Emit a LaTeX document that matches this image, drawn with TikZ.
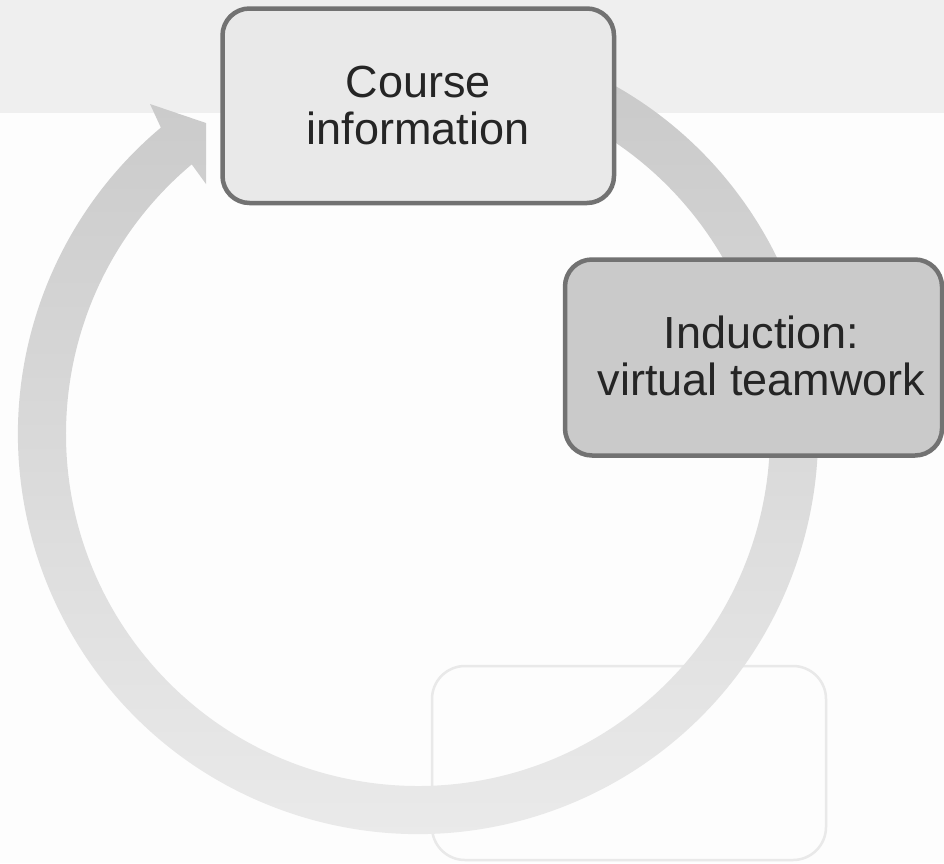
\documentclass[tikz,border=0pt]{standalone}
\usepackage{fontspec}
\setmainfont{Liberation Sans}
\definecolor{paper}{HTML}{FDFDFD}
\definecolor{band}{HTML}{EFEFEF}
\definecolor{ringtop}{HTML}{C9C9C9}
\definecolor{ringmid}{HTML}{E3E3E3}
\definecolor{ringbot}{HTML}{ECECEC}
\definecolor{boxedge}{HTML}{727272}
\definecolor{lightfill}{HTML}{E9E9E9}
\definecolor{darkfill}{HTML}{CACACA}
\definecolor{ghostedge}{HTML}{E9E9E9}
\definecolor{ink}{HTML}{252525}
\begin{document}
\begin{tikzpicture}[x=1pt,y=-1pt,
	stagebox/.style={draw=boxedge,line width=4.5pt,rounded corners=27pt,inner sep=0pt},
	stagetext/.style={align=center,text=ink,inner sep=0pt,font=\fontsize{45}{46.5}\selectfont},
	ghostbox/.style={draw=ghostedge,line width=2.5pt,rounded corners=33pt,fill=paper}]
		% page
		\useasboundingbox (0,0) rectangle (944,863);
		\fill[color=paper] (0,0) rectangle (944,863);
		\fill[color=band] (0,0) rectangle (944,113);
		
		% empty stage
		\node[ghostbox,minimum width=394pt,minimum height=194pt] (blank) at (629,763) {};
		
		% ring arrow
		\shade[shift={(418,434)},top color=ringtop,middle color=ringmid,bottom color=ringbot]
		(-70:400) arc[start angle=-70,end angle=230,radius=400]
		-- (-268,-330) -- (-212,-311) -- (-212,-250)
		-- (230:352) arc[start angle=230,end angle=-70,radius=352] -- cycle;
		
		% stages
		\node[stagebox,fill=lightfill,minimum width=391.5pt,minimum height=194.5pt] (info) at (418.25,105.75) {};
		\node[stagetext] (infotext) at (info.center) {Course\\information};
		\node[stagebox,fill=darkfill,minimum width=377pt,minimum height=196pt] (induct) at (753.5,357.5) {};
		\node[stagetext] (inducttext) at ([xshift=8pt,yshift=1.5pt]induct.center) {Induction:\\virtual teamwork};
		\end{tikzpicture}
\end{document}
